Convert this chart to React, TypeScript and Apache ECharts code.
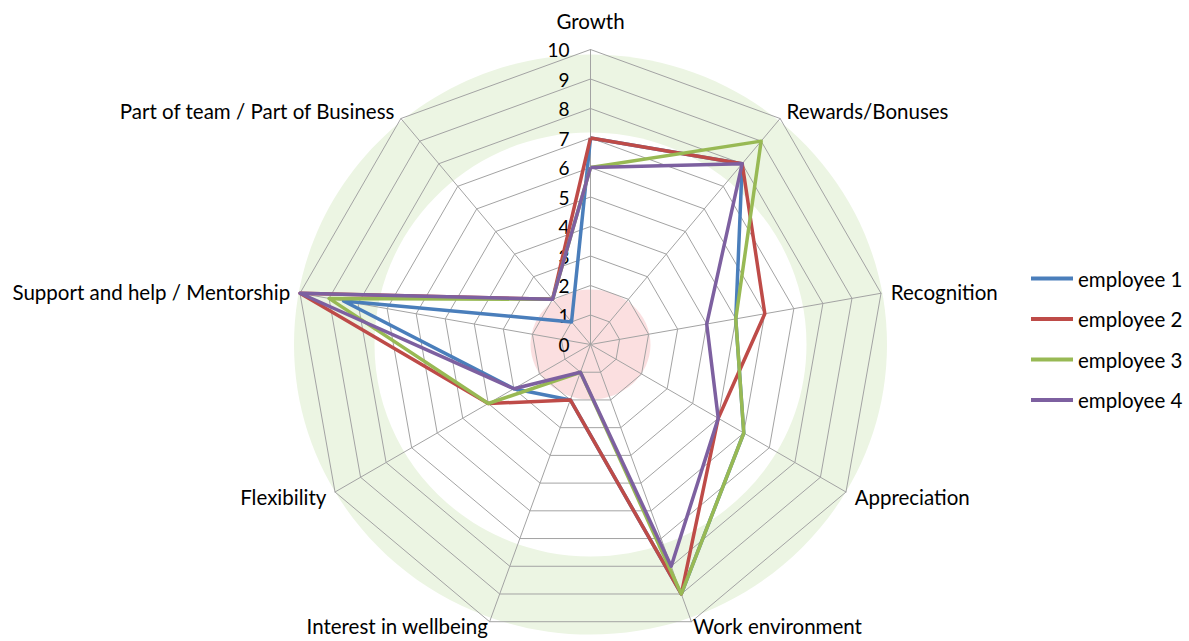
import React, { useEffect, useRef } from "react";
import * as echarts from "echarts";

// Categories listed clockwise starting from the top axis
const categories = [
  "Growth",
  "Rewards/Bonuses",
  "Recognition",
  "Appreciation",
  "Work environment",
  "Interest in wellbeing",
  "Flexibility",
  "Support and help / Mentorship",
  "Part of team / Part of Business",
];
const employee1 = [7, 8, 5, 6, 9, 2, 3, 8.5, 1];
const employee2 = [7, 8, 6, 5, 9, 2, 4, 10, 2];
const employee3 = [6, 9, 5, 6, 9, 1, 4, 9, 2];
const employee4 = [6, 8, 4, 5, 8, 1, 3, 10, 2];
const seriesNames = ["employee 1", "employee 2", "employee 3", "employee 4"];
const seriesValues = [employee1, employee2, employee3, employee4];
const seriesColors = ["#4a7ebb", "#be4b48", "#98b954", "#7d60a0"];
const scaleMin = 0;
const scaleMax = 10;
const splitCount = 10;

const FONT = "Lato, 'Open Sans', sans-serif";

// ECharts places indicators counter-clockwise; reorder to draw clockwise
const order = categories.map((_, i) => (i === 0 ? 0 : categories.length - i));

export default function App() {
  const ref = useRef<HTMLDivElement>(null);
  useEffect(() => {
    if (!ref.current) return;
    const chart = echarts.init(ref.current, null, { renderer: "svg" });
    const cx = 590.5;
    const cy = 344.5;
    const indicator = order.map((idx) => {
      const base: any = { name: categories[idx], min: scaleMin, max: scaleMax };
      if (idx === 0) {
        base.nameGap = 18;
        base.axisLabel = {
          show: true,
          align: "right",
          margin: 21,
          fontSize: 19,
          fontFamily: FONT,
          color: "#000",
        };
      }
      if (idx === 4 || idx === 5) {
        base.nameGap = 5;
      }
      return base;
    });
    chart.setOption({
      animation: false,
      backgroundColor: "#fff",
      graphic: [
        {
          type: "ellipse",
          z: 0,
          silent: true,
          shape: { cx, cy, rx: 296.5, ry: 290 },
          style: { fill: "#ecf5e3" },
        },
        {
          type: "ellipse",
          z: 0,
          silent: true,
          shape: { cx, cy, rx: 216, ry: 212 },
          style: { fill: "#ffffff" },
        },
        {
          type: "ellipse",
          z: 0,
          silent: true,
          shape: { cx, cy, rx: 60, ry: 55 },
          style: { fill: "#fbdfe0" },
        },
      ],
      legend: {
        orient: "vertical",
        left: 1026,
        top: 263,
        icon: "rect",
        itemWidth: 42,
        itemHeight: 4,
        itemGap: 19.5,
        textStyle: { fontSize: 20.5, fontFamily: FONT, color: "#000" },
        data: seriesNames,
      },
      radar: {
        center: [cx, cy],
        radius: 295,
        startAngle: 90,
        shape: "polygon",
        splitNumber: splitCount,
        nameGap: 10,
        axisName: { color: "#000", fontSize: 20.5, fontFamily: FONT },
        axisLine: { lineStyle: { color: "#a3a3a3", width: 1 } },
        splitLine: { lineStyle: { color: "#a3a3a3", width: 1 } },
        splitArea: { show: false },
        axisTick: { show: false },
        axisLabel: { show: false },
        indicator,
      },
      series: [
        {
          type: "radar",
          symbol: "none",
          z: 3,
          data: seriesNames.map((name, s) => ({
            name,
            value: order.map((idx) => seriesValues[s][idx]),
            lineStyle: { color: seriesColors[s], width: 3.5 },
            itemStyle: { color: seriesColors[s] },
          })),
        },
      ],
    });
    return () => chart.dispose();
  }, []);
  return (
    <div
      ref={ref}
      style={{ position: "fixed", left: 0, top: 0, width: 1189, height: 641 }}
    />
  );
}
